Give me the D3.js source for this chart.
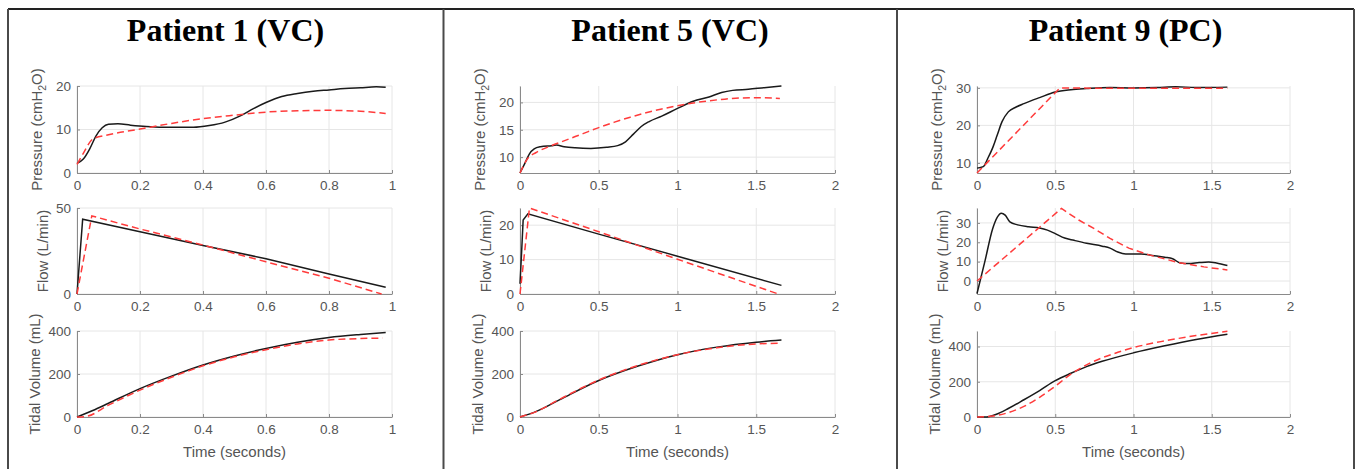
<!DOCTYPE html>
<html>
<head>
  <meta charset="utf-8">
  <title>Patient ventilation fits</title>
  <script src="https://d3js.org/d3.v7.min.js"></script>
  <style>
    body { margin: 0; background: #fff; }
    text { font-family: "Liberation Sans", Arial, sans-serif; }
  </style>
</head>
<body>
<div id="my_dataviz"></div>
<script>
// ---- data: [time (s), value] ----
// Patient 1 (VC)
var p1PressureMeasured = [[0,2.2],[0.02,3.2],[0.04,5.5],[0.06,8.5],[0.08,10.4],[0.1,11.2],[0.13,11.3],[0.17,11.0],[0.22,10.7],[0.3,10.5],[0.37,10.5],[0.42,10.9],[0.47,11.7],[0.52,13.2],[0.56,14.8],[0.6,16.2],[0.65,17.6],[0.7,18.3],[0.75,18.8],[0.8,19.1],[0.85,19.4],[0.9,19.6],[0.95,19.8],[0.98,19.7]];
var p1PressureModel = [[0,2],[0.02,4.5],[0.05,7.8],[0.1,8.8],[0.2,10.1],[0.3,11.4],[0.4,12.5],[0.5,13.3],[0.6,14.0],[0.7,14.3],[0.8,14.4],[0.9,14.2],[0.98,13.7]];
var p1FlowMeasured = [[0,0],[0.018,43.5],[0.2,36.2],[0.4,28.2],[0.6,20.5],[0.8,11.6],[0.98,3.9]];
var p1FlowModel = [[0,0],[0.047,45.4],[0.2,37.8],[0.4,28.5],[0.6,18.7],[0.8,9.2],[0.967,0]];
var p1VolumeMeasured = [[0,0],[0.05,30],[0.1,64],[0.2,132],[0.3,190],[0.4,242],[0.5,284],[0.6,319],[0.7,348],[0.8,370],[0.9,384],[0.98,393]];
var p1VolumeModel = [[0,0],[0.03,3],[0.1,55],[0.2,125],[0.3,185],[0.4,238],[0.5,280],[0.6,313],[0.7,340],[0.8,358],[0.9,365],[0.97,367]];

// Patient 5 (VC)
var p5PressureMeasured = [[0,7.1],[0.03,8.8],[0.06,10.6],[0.09,11.5],[0.13,11.9],[0.2,12.1],[0.23,12.2],[0.28,11.9],[0.35,11.7],[0.45,11.6],[0.55,11.8],[0.62,12.1],[0.67,12.8],[0.72,14.2],[0.77,15.6],[0.82,16.5],[0.9,17.5],[1.0,18.9],[1.1,20.2],[1.2,21.0],[1.28,21.8],[1.35,22.2],[1.45,22.4],[1.55,22.7],[1.66,23.0]];
var p5PressureModel = [[0,7.1],[0.05,9.8],[0.1,10.8],[0.2,12.1],[0.3,13.2],[0.4,14.3],[0.5,15.4],[0.6,16.4],[0.7,17.3],[0.8,18.1],[0.9,18.8],[1.0,19.4],[1.1,19.9],[1.2,20.3],[1.3,20.6],[1.4,20.8],[1.5,20.85],[1.6,20.8],[1.65,20.7]];
var p5FlowMeasured = [[0,3],[0.01,12],[0.02,21.5],[0.05,23.3],[0.5,17.4],[1.0,11],[1.66,2.5]];
var p5FlowModel = [[0,0],[0.06,25],[0.5,18.1],[1.0,10.1],[1.64,0]];
var p5VolumeMeasured = [[0,0],[0.1,25],[0.25,80],[0.5,170],[0.75,237],[1.0,290],[1.25,325],[1.5,348],[1.66,358]];
var p5VolumeModel = [[0,0],[0.1,24],[0.25,82],[0.5,172],[0.75,240],[1.0,290],[1.25,322],[1.5,340],[1.65,343]];

// Patient 9 (PC)
var p9PressureMeasured = [[0,8.6],[0.04,9],[0.07,11.3],[0.1,14],[0.13,17.5],[0.16,21],[0.2,23.6],[0.25,24.9],[0.3,25.8],[0.4,27.4],[0.5,28.9],[0.6,29.5],[0.7,29.8],[0.85,30.1],[1.0,30],[1.15,30.1],[1.27,30.3],[1.4,30.1],[1.6,30.2]];
var p9PressureModel = [[0,7.3],[0.53,30],[0.8,29.9],[1.6,29.9]];
var p9FlowMeasured = [[0,-6.5],[0.05,10],[0.1,27],[0.13,33],[0.155,35],[0.18,34],[0.21,30.5],[0.26,29],[0.33,28],[0.4,27.4],[0.45,26.3],[0.5,24.5],[0.56,22.2],[0.62,21],[0.7,19.5],[0.8,18],[0.85,17],[0.9,15],[0.95,14],[1.05,14],[1.12,13.2],[1.2,12.3],[1.25,11.5],[1.3,9.3],[1.35,9],[1.42,9.5],[1.48,9.8],[1.53,9.3],[1.6,8]];
var p9FlowModel = [[0,0],[0.54,37.5],[0.6,34.2],[0.65,31.5],[0.75,27],[0.85,22],[0.97,17],[1.1,13.5],[1.29,9.5],[1.45,7.3],[1.6,5.7]];
var p9VolumeMeasured = [[0,0],[0.05,0],[0.08,3],[0.12,14],[0.2,48],[0.3,98],[0.4,150],[0.5,206],[0.6,248],[0.7,286],[0.8,316],[1.0,364],[1.2,404],[1.4,440],[1.6,470]];
var p9VolumeModel = [[0,0],[0.1,5],[0.2,25],[0.3,60],[0.4,112],[0.5,175],[0.6,243],[0.7,296],[0.8,336],[0.9,367],[1.0,394],[1.2,432],[1.4,462],[1.6,486]];

// titles and ticks
var titles = ["Patient 1 (VC)", "Patient 5 (VC)", "Patient 9 (PC)"];
var xTicksShort = [0, 0.2, 0.4, 0.6, 0.8, 1];
var xTicksLong = [0, 0.5, 1, 1.5, 2];

// ---- layout ----
var W = 1356, H = 469;
var svg = d3.select("#my_dataviz").append("svg")
  .attr("width", W).attr("height", H);

var panels = [
  { title: titles[0], cx: 225.5, xr: [77, 392], xd: [0, 1], xt: xTicksShort,
    plots: [
      { d: [0, 20], t: [0, 10, 20], meas: p1PressureMeasured, model: p1PressureModel },
      { d: [0, 50], t: [0, 50], meas: p1FlowMeasured, model: p1FlowModel, linear: true },
      { d: [0, 400], t: [0, 200, 400], meas: p1VolumeMeasured, model: p1VolumeModel }
    ] },
  { title: titles[1], cx: 670, xr: [520, 835], xd: [0, 2], xt: xTicksLong,
    plots: [
      { d: [7.1, 23], t: [10, 15, 20], meas: p5PressureMeasured, model: p5PressureModel },
      { d: [0, 25], t: [0, 10, 20], meas: p5FlowMeasured, model: p5FlowModel, linear: true },
      { d: [0, 400], t: [0, 200, 400], meas: p5VolumeMeasured, model: p5VolumeModel }
    ] },
  { title: titles[2], cx: 1125.5, xr: [977, 1290], xd: [0, 2], xt: xTicksLong,
    plots: [
      { d: [7.3, 30.5], t: [10, 20, 30], meas: p9PressureMeasured, model: p9PressureModel, linearModel: true },
      { d: [-6.7, 37.7], t: [0, 10, 20, 30], meas: p9FlowMeasured, model: p9FlowModel, linearModel: true },
      { d: [0, 488], t: [0, 200, 400], meas: p9VolumeMeasured, model: p9VolumeModel }
    ] }
];
var rows = [[173, 86], [294, 208], [417, 331]];
var yLabels = ["Pressure", "Flow (L/min)", "Tidal Volume (mL)"];

// frame lines
var frame = svg.append("g").attr("stroke", "#4a4a4a").attr("stroke-width", 2);
frame.append("line").attr("x1", 8).attr("x2", 1354).attr("y1", 9).attr("y2", 9).attr("stroke", "#222");
[8, 443.5, 897, 1354].forEach(function(x) {
  frame.append("line").attr("x1", x).attr("x2", x).attr("y1", 9).attr("y2", H);
});

panels.forEach(function(p) {
  svg.append("text")
    .attr("x", p.cx).attr("y", 41)
    .attr("text-anchor", "middle")
    .style("font-family", "'Liberation Serif', 'Times New Roman', serif")
    .style("font-weight", "bold")
    .style("font-size", "32px")
    .text(p.title);

  var x = d3.scaleLinear().domain(p.xd).range(p.xr);

  p.plots.forEach(function(pl, i) {
    var y = d3.scaleLinear().domain(pl.d).range(rows[i]);
    var g = svg.append("g");

    // grid
    g.selectAll(".gx").data(p.xt).enter().append("line")
      .attr("x1", function(d) { return x(d); }).attr("x2", function(d) { return x(d); })
      .attr("y1", rows[i][0]).attr("y2", rows[i][1])
      .attr("stroke", "#e6e6e6");
    g.selectAll(".gy").data(pl.t).enter().append("line")
      .attr("x1", p.xr[0]).attr("x2", p.xr[1])
      .attr("y1", function(d) { return y(d); }).attr("y2", function(d) { return y(d); })
      .attr("stroke", "#e6e6e6");

    // axes
    var ax = g.append("g").attr("transform", "translate(0," + rows[i][0] + ")")
      .call(d3.axisBottom(x).tickValues(p.xt).tickFormat(function(d) { return String(d); })
        .tickSizeInner(-3).tickSizeOuter(0).tickPadding(7));
    var ay = g.append("g").attr("transform", "translate(" + p.xr[0] + ",0)")
      .call(d3.axisLeft(y).tickValues(pl.t).tickFormat(function(d) { return String(d); })
        .tickSizeInner(-3).tickSizeOuter(0).tickPadding(6));
    [ax, ay].forEach(function(a) {
      a.select(".domain").attr("stroke", "#8a8a8a");
      a.selectAll(".tick line").attr("stroke", "#8a8a8a");
      a.selectAll("text").attr("fill", "#555").style("font-size", "13.5px")
        .style("font-family", "'Liberation Sans', Arial, sans-serif");
    });

    // y label
    var left = ay.node().getBBox().x + p.xr[0];
    var lab = g.append("text")
      .attr("transform", "rotate(-90)")
      .attr("x", -(rows[i][0] + rows[i][1]) / 2)
      .attr("text-anchor", "middle")
      .attr("fill", "#555")
      .style("font-size", "15px");
    if (i === 0) {
      lab.attr("y", left - 14);
      lab.append("tspan").text("Pressure (cmH");
      lab.append("tspan").attr("dy", 4).style("font-size", "10.5px").text("2");
      lab.append("tspan").attr("dy", -4).text("O)");
    } else {
      lab.attr("y", left - 8).text(yLabels[i]);
    }

    // lines
    var smooth = d3.line().x(function(d) { return x(d[0]); }).y(function(d) { return y(d[1]); })
      .curve(d3.curveMonotoneX);
    var straight = d3.line().x(function(d) { return x(d[0]); }).y(function(d) { return y(d[1]); });

    g.append("path").datum(pl.meas)
      .attr("d", pl.linear ? straight : smooth)
      .attr("fill", "none").attr("stroke", "#1a1a1a").attr("stroke-width", 1.5);
    g.append("path").datum(pl.model)
      .attr("d", (pl.linear || pl.linearModel) ? straight : smooth)
      .attr("fill", "none").attr("stroke", "#ff3b3b").attr("stroke-width", 1.5)
      .attr("stroke-dasharray", "7,4");
  });

  svg.append("text")
    .attr("x", (p.xr[0] + p.xr[1]) / 2).attr("y", 457)
    .attr("text-anchor", "middle").attr("fill", "#555")
    .style("font-size", "15px")
    .text("Time (seconds)");
});
</script>
</body>
</html>
